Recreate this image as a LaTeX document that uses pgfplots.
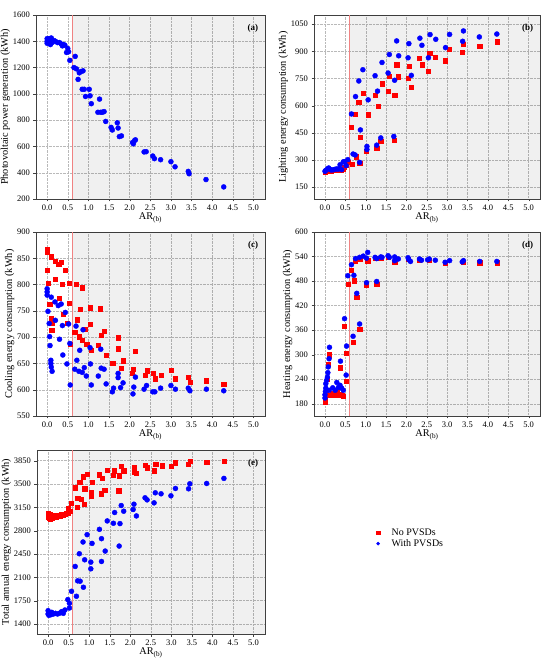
\documentclass[border=0pt]{standalone}
\usepackage{fontspec}
\setmainfont{Liberation Serif}
\usepackage{pgfplots}
\pgfplotsset{compat=1.18}
\definecolor{myred}{RGB}{255,0,0}
\definecolor{myblue}{RGB}{0,0,255}
\definecolor{vline}{RGB}{240,130,130}
\pgfplotsset{
  panel/.style={
    scale only axis, height=184pt,
    xmin=-0.27, xmax=5.28,
    xtick={0,0.5,1,1.5,2,2.5,3,3.5,4,4.5,5},
    xticklabel style={/pgf/number format/fixed,/pgf/number format/fixed zerofill,/pgf/number format/precision=1},
    /pgf/number format/assume math mode=true,
    /pgf/number format/1000 sep={},
    tick label style={font=\fontsize{8.5}{9.5}\selectfont},
    label style={font=\fontsize{10.3}{12}\selectfont},
    xlabel={AR\textsubscript{(b)}},
    xlabel style={yshift=5pt},
    ylabel style={yshift=-4pt},
    grid=major, grid style={densely dotted, gray!55},
    axis line style={gray!50!black},
    tick style={gray!50!black},
    tick align=outside, xtick pos=bottom, ytick pos=left,
    major tick length=2.5pt,
    clip=true,
  },
  rmark/.style={only marks, mark=square*, mark size=2.1pt, color=myred},
  bmark/.style={only marks, mark=*, mark size=2.5pt, color=myblue},
}
\newcommand{\deco}[1]{%
  \fill[black, fill opacity=0.06] ({axis cs:0.6,0}|-{rel axis cs:0,0}) rectangle (rel axis cs:1,1);
  \draw[vline, line width=0.6pt] ({axis cs:0.6,0}|-{rel axis cs:0,0}) -- ({axis cs:0.6,0}|-{rel axis cs:0,1});
  \node[font=\fontsize{8.5}{9.5}\selectfont, anchor=south, inner sep=1.5pt] at ({axis cs:0.6,0}|-{rel axis cs:0,1}) {0.6};
  \node[font=\bfseries\fontsize{9}{10}\selectfont, anchor=east] at (rel axis cs:0.985,0.93) {#1};
}
\begin{document}
\begin{tikzpicture}
\path[use as bounding box] (0,0) rectangle (550pt,662pt);

% (a)
\begin{axis}[panel, width=229pt, at={(36pt,647pt)}, anchor=north west,
  ymin=200, ymax=1600, ytick={200,400,600,800,1000,1200,1400,1600},
  ylabel={Photovoltaic power generation (kWh)}]
\deco{(a)}
\addplot[bmark] coordinates {(0.0,1420)(0.0,1400)(0.0,1385)(0.02,1410)(0.04,1395)(0.05,1420)(0.07,1380)(0.08,1375)(0.1,1400)(0.1,1425)(0.12,1390)(0.17,1405)(0.2,1400)(0.25,1390)(0.3,1390)(0.34,1380)(0.37,1365)(0.4,1375)(0.43,1370)(0.47,1315)(0.5,1345)(0.52,1320)(0.55,1255)(0.65,1200)(0.68,1285)(0.71,1190)(0.75,1110)(0.78,1160)(0.82,1170)(0.85,1035)(0.87,1175)(0.9,1035)(0.93,980)(1.02,1035)(1.04,985)(1.07,925)(1.23,860)(1.27,960)(1.3,860)(1.34,860)(1.38,865)(1.42,790)(1.55,745)(1.58,725)(1.7,780)(1.72,740)(1.75,675)(1.8,680)(2.07,630)(2.09,620)(2.12,645)(2.14,650)(2.35,558)(2.4,560)(2.56,527)(2.6,507)(2.75,499)(3.0,484)(3.1,445)(3.42,410)(3.44,392)(3.85,348)(4.28,292)};
\end{axis}

% (b)
\begin{axis}[panel, width=226pt, at={(314pt,647pt)}, anchor=north west,
  ymin=85, ymax=1100, ytick={150,300,450,600,750,900,1050},
  ylabel={Lighting energy consumption (kWh)}]
\deco{(b)}
\addplot[rmark] coordinates {(0,236)(0.03,240)(0.06,238)(0.1,240)(0.14,240)(0.18,242)(0.22,243)(0.27,244)(0.31,246)(0.35,247)(0.4,246)(0.45,250)(0.48,262)(0.52,270)(0.56,290)(0.65,481)(0.67,278)(0.75,552)(0.77,318)(0.83,621)(0.85,284)(0.87,426)(0.93,668)(1.02,347)(1.06,550)(1.23,658)(1.27,367)(1.30,597)(1.37,402)(1.40,721)(1.55,681)(1.57,762)(1.70,411)(1.71,658)(1.76,826)(1.80,760)(2.04,751)(2.06,818)(2.12,703)(2.32,862)(2.38,826)(2.53,792)(2.57,890)(2.71,866)(2.96,848)(3.05,910)(3.37,895)(3.40,941)(3.80,928)(4.22,953)};
\addplot[bmark] coordinates {(0,238)(0.02,243)(0.06,251)(0.09,256)(0.11,250)(0.15,245)(0.2,246)(0.25,249)(0.29,251)(0.33,250)(0.37,274)(0.41,247)(0.45,290)(0.48,291)(0.52,269)(0.56,302)(0.65,554)(0.69,333)(0.74,328)(0.75,650)(0.83,736)(0.85,287)(0.87,466)(0.93,798)(1.03,375)(1.03,358)(1.06,632)(1.23,765)(1.27,382)(1.29,680)(1.37,422)(1.40,838)(1.55,780)(1.58,882)(1.69,430)(1.71,740)(1.76,957)(1.81,875)(2.04,864)(2.06,942)(2.12,767)(2.33,972)(2.38,933)(2.54,864)(2.58,992)(2.72,966)(2.96,920)(3.06,993)(3.38,955)(3.40,1012)(3.79,979)(4.22,995)};
\end{axis}

% (c)
\begin{axis}[panel, width=229pt, at={(36pt,430pt)}, anchor=north west,
  ymin=550, ymax=900, ytick={550,600,650,700,750,800,850,900},
  ylabel={Cooling energy consumption (kWh)}]
\deco{(c)}
\addplot[rmark] coordinates {(0,868)(0,862)(0.1,853)(0,827)(0.03,803)(0.19,844)(0.28,839)(0.35,842)(0.19,810)(0.37,800)(0.43,828)(0.53,803)(0.54,765)(0.30,774)(0.38,744)(0.48,727)(0.06,763)(0.09,735)(0.11,726)(0.11,713)(0.56,686)(0.70,800)(0.85,794)(0.67,709)(0.73,733)(0.80,753)(0.77,701)(0.85,694)(0.91,715)(0.96,687)(1.04,756)(1.05,725)(1.07,675)(1.29,754)(1.23,685)(1.31,704)(1.38,711)(1.43,666)(1.58,650)(1.61,650)(1.72,699)(1.73,678)(1.79,641)(1.84,655)(2.14,673)(2.09,639)(2.06,632)(2.37,628)(2.42,636)(2.58,632)(2.62,621)(2.77,627)(3.0,637)(3.11,621)(3.42,624)(3.46,615)(3.86,617)(4.28,611)};
\addplot[bmark] coordinates {(0,792)(0,786)(0,780)(0.1,776)(0.02,749)(0.05,726)(0.06,701)(0.07,684)(0.09,656)(0.09,650)(0.1,643)(0.12,635)(0.19,767)(0.27,760)(0.34,763)(0.2,732)(0.30,696)(0.37,722)(0.38,666)(0.44,747)(0.48,649)(0.52,725)(0.55,688)(0.56,609)(0.67,639)(0.72,656)(0.70,721)(0.77,635)(0.79,675)(0.85,633)(0.87,714)(0.90,642)(0.95,626)(1.04,680)(1.05,649)(1.07,609)(1.24,626)(1.30,677)(1.31,641)(1.38,639)(1.43,611)(1.58,596)(1.61,603)(1.72,631)(1.72,623)(1.78,604)(1.84,613)(2.08,592)(2.10,605)(2.14,624)(2.35,601)(2.41,608)(2.56,596)(2.61,596)(2.75,603)(3.0,608)(3.11,601)(3.42,603)(3.46,598)(3.86,601)(4.28,598)};
\end{axis}

% (d)
\begin{axis}[panel, width=226pt, at={(314pt,430pt)}, anchor=north west,
  ymin=150, ymax=600, ytick={180,240,300,360,420,480,540,600},
  ylabel={Heating energy consumption (kWh)}]
\deco{(d)}
\addplot[rmark] coordinates {(0,184)(0.01,192)(0.02,200)(0.03,213)(0.06,240)(0.08,276)(0.1,300)(0.13,200)(0.17,205)(0.21,202)(0.25,202)(0.29,210)(0.33,202)(0.37,204)(0.41,200)(0.45,199)(0.38,268)(0.48,370)(0.52,236)(0.53,304)(0.56,473)(0.65,506)(0.69,331)(0.71,481)(0.75,528)(0.78,440)(0.85,363)(0.87,534)(1.02,469)(1.05,530)(1.27,473)(1.23,535)(1.37,536)(1.55,539)(1.71,527)(2.04,534)(2.32,531)(2.56,531)(2.95,523)(3.40,527)(3.8,525)(4.22,525)};
\addplot[bmark] coordinates {(0,194)(0,202)(0.01,210)(0.02,218)(0.02,229)(0.04,237)(0.06,245)(0.07,256)(0.08,270)(0.1,290)(0.11,318)(0.1,213)(0.19,219)(0.25,213)(0.29,232)(0.33,220)(0.37,225)(0.41,218)(0.45,213)(0.38,284)(0.48,388)(0.52,250)(0.53,321)(0.56,493)(0.65,520)(0.69,345)(0.71,494)(0.75,535)(0.78,450)(0.85,538)(0.85,375)(0.94,541)(1.05,550)(1.02,536)(1.02,476)(1.23,538)(1.27,535)(1.27,479)(1.37,539)(1.40,538)(1.55,542)(1.58,538)(1.71,539)(1.71,530)(1.75,534)(1.80,534)(2.04,537)(2.06,532)(2.10,528)(2.32,534)(2.37,531)(2.52,532)(2.56,534)(2.71,531)(2.95,526)(3.06,530)(3.37,527)(3.40,530)(3.8,528)(4.22,528)};
\end{axis}

% (e)
\begin{axis}[panel, width=228pt, at={(37pt,212pt)}, anchor=north west,
  ymin=1250, ymax=4010, ytick={1400,1750,2100,2450,2800,3150,3500,3850},
  ylabel={Total annual energy consumption (kWh)},
  legend style={draw=none, fill=none, at={(1.47,0.52)}, anchor=west,
    font=\fontsize{10}{12}\selectfont, row sep=-1.5pt,
    legend cell align=left},
  legend image code/.code={\draw[#1, mark size=1.6pt] plot coordinates {(0.1cm,0cm)}; \path[draw=none, fill=none] (0,0) -- (0.5cm,0);}]
\deco{(e)}
\addplot[rmark] coordinates {(0,3056)(0,3031)(0.01,3006)(0.02,2981)(0.05,2971)(0.09,2991)(0.13,3016)(0.17,3031)(0.21,3026)(0.25,3011)(0.29,3031)(0.33,3041)(0.37,3026)(0.41,3046)(0.45,3066)(0.49,3056)(0.05,3041)(0.1,3011)(0.2,3001)(0.3,3021)(0.48,3142)(0.53,3092)(0.56,3217)(0.66,3443)(0.70,3157)(0.72,3292)(0.77,3529)(0.80,3267)(0.85,3609)(0.87,3197)(0.89,3428)(0.95,3644)(1.04,3323)(1.05,3368)(1.07,3529)(1.24,3639)(1.29,3353)(1.31,3589)(1.38,3403)(1.43,3709)(1.59,3629)(1.61,3699)(1.72,3398)(1.73,3624)(1.78,3765)(1.84,3699)(2.09,3674)(2.10,3750)(2.15,3659)(2.36,3780)(2.42,3745)(2.58,3699)(2.62,3800)(2.77,3775)(3.0,3765)(3.10,3820)(3.42,3800)(3.46,3845)(3.86,3825)(4.29,3845)};
\addlegendentry{No PVSDs}
\addplot[bmark] coordinates {(0,1600)(0,1550)(0.02,1530)(0.05,1560)(0.09,1575)(0.13,1550)(0.18,1560)(0.23,1550)(0.29,1565)(0.33,1585)(0.37,1560)(0.41,1610)(0.03,1570)(0.07,1540)(0.48,1766)(0.52,1711)(0.52,1640)(0.57,1891)(0.66,2263)(0.69,1816)(0.72,2047)(0.78,2042)(0.76,2454)(0.85,2630)(0.86,1951)(0.89,2363)(0.95,2740)(1.04,2328)(1.04,2228)(1.07,2609)(1.25,2820)(1.30,2338)(1.30,2680)(1.39,2494)(1.44,2946)(1.59,2911)(1.62,3072)(1.73,2569)(1.75,2906)(1.78,3177)(1.84,3092)(2.07,3117)(2.09,3197)(2.15,3021)(2.36,3293)(2.41,3262)(2.58,3217)(2.61,3368)(2.75,3353)(2.99,3323)(3.10,3433)(3.42,3428)(3.45,3503)(3.86,3508)(4.28,3584)};
\addlegendentry{With PVSDs}
\end{axis}
\end{tikzpicture}
\end{document}
